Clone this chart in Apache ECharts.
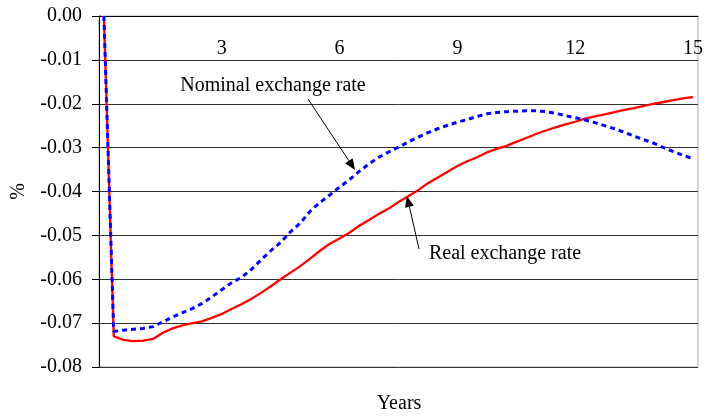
<!DOCTYPE html>
<html><head><meta charset="utf-8">
<script src="https://cdn.jsdelivr.net/npm/echarts@6/dist/echarts.min.js"></script>
<style>html,body{margin:0;padding:0;background:#fff}#c{width:722px;height:418px}</style>
</head><body><div id="c"></div>
<script>
// quarterly periods 0..60 (15 years)
const quarters = Array.from({length: 61}, (_, i) => String(i));
const xTickLabels = {12: '3', 24: '6', 36: '9', 48: '12', 60: '15'};

const realRate = [
  0, -0.0730, -0.0738, -0.0741, -0.0740, -0.0736, -0.0722, -0.0712, -0.0705, -0.0700,
  -0.0696, -0.0688, -0.0679, -0.0668, -0.0657, -0.0645, -0.0631, -0.0616, -0.0600, -0.0585,
  -0.0570, -0.0553, -0.0535, -0.0519, -0.0507, -0.0494, -0.0478, -0.0465, -0.0451, -0.0439,
  -0.0424, -0.0411, -0.0397, -0.0381, -0.0368, -0.0355, -0.0342, -0.0331, -0.0322, -0.0311,
  -0.0303, -0.0296, -0.0287, -0.0278, -0.0269, -0.0261, -0.0254, -0.0247, -0.0241, -0.0234,
  -0.0229, -0.0224, -0.0219, -0.0214, -0.0210, -0.0205, -0.0200, -0.0196, -0.0192, -0.0188,
  -0.0185
];
const nominalRate = [
  0, -0.0719, -0.0716, -0.0714, -0.0712, -0.0708, -0.0697, -0.0686, -0.0676, -0.0667,
  -0.0655, -0.0640, -0.0624, -0.0608, -0.0596, -0.0578, -0.0556, -0.0535, -0.0516, -0.0492,
  -0.0472, -0.0445, -0.0425, -0.0408, -0.0390, -0.0373, -0.0354, -0.0337, -0.0322, -0.0310,
  -0.0299, -0.0287, -0.0276, -0.0266, -0.0257, -0.0249, -0.0242, -0.0236, -0.0229, -0.0223,
  -0.0220, -0.0218, -0.0217, -0.0216, -0.0216, -0.0218, -0.0222, -0.0227, -0.0232, -0.0237,
  -0.0243, -0.0250, -0.0257, -0.0265, -0.0274, -0.0282, -0.0290, -0.0300, -0.0309, -0.0318,
  -0.0325
];

const FONT = '"Liberation Serif", "Times New Roman", serif';

function arrow(x1, y1, x2, y2) {
  const ang = Math.atan2(y2 - y1, x2 - x1);
  const L = 11, W = 4.5;
  const bx = x2 - L * Math.cos(ang), by = y2 - L * Math.sin(ang);
  const px = -Math.sin(ang) * W, py = Math.cos(ang) * W;
  return [
    {type: 'line', shape: {x1: x1, y1: y1, x2: bx, y2: by}, style: {stroke: '#000', lineWidth: 1}, z: 100},
    {type: 'polygon', shape: {points: [[x2, y2], [bx + px, by + py], [bx - px, by - py]]}, style: {fill: '#000'}, z: 100}
  ];
}

const chart = echarts.init(document.getElementById('c'));
chart.setOption({
  animation: false,
  backgroundColor: '#fff',
  grid: {left: 99, right: 24, top: 16, bottom: 51, containLabel: false, outerBoundsMode: 'none',
    show: true, borderColor: '#aaa', borderWidth: 1},
  xAxis: {
    type: 'category', data: quarters, position: 'top', boundaryGap: true,
    axisLine: {lineStyle: {color: '#000', width: 1}},
    axisTick: {inside: true, length: 7, interval: (i) => i % 4 === 0, lineStyle: {color: '#000'}},
    axisLabel: {inside: true, interval: (i) => xTickLabels[i] !== undefined, formatter: (v, i) => xTickLabels[i] || '',
      margin: 23, fontSize: 20, fontFamily: FONT, color: '#000'},
    splitLine: {show: false}
  },
  yAxis: {
    type: 'value', min: -0.08, max: 0, interval: 0.01,
    name: '%', nameLocation: 'middle', nameGap: 70, nameRotate: 90,
    nameTextStyle: {fontSize: 20, fontFamily: FONT, color: '#000'},
    axisLine: {show: true, lineStyle: {color: '#000', width: 1}},
    axisTick: {show: true, length: 7, lineStyle: {color: '#000'}},
    axisLabel: {formatter: (v) => (Math.abs(v) < 1e-9 ? 0 : v).toFixed(2), margin: 17, padding: [5, 0, 0, 0],
      fontSize: 20, fontFamily: FONT, color: '#000'},
    splitLine: {lineStyle: {color: '#333', width: 1}}
  },
  series: [
    {name: 'Real exchange rate', type: 'line', data: realRate, symbol: 'none', z: 3,
      lineStyle: {color: '#ff0000', width: 2.3}},
    {name: 'Nominal exchange rate', type: 'line', data: nominalRate, symbol: 'none', z: 4,
      lineStyle: {color: '#0000ff', width: 3, type: [5, 4]}}
  ],
  graphic: [
    {type: 'text', x: 273, y: 86, style: {text: 'Nominal exchange rate', fontSize: 20, fontFamily: FONT, fill: '#000', align: 'center', verticalAlign: 'middle'}, z: 100},
    {type: 'text', x: 505, y: 254, style: {text: 'Real exchange rate', fontSize: 20, fontFamily: FONT, fill: '#000', align: 'center', verticalAlign: 'middle'}, z: 100},
    {type: 'text', x: 399, y: 404, style: {text: 'Years', fontSize: 20, fontFamily: FONT, fill: '#000', align: 'center', verticalAlign: 'middle'}, z: 100},
    ...arrow(308, 99, 355, 170),
    ...arrow(419, 249, 407, 196)
  ]
});
</script></body></html>
